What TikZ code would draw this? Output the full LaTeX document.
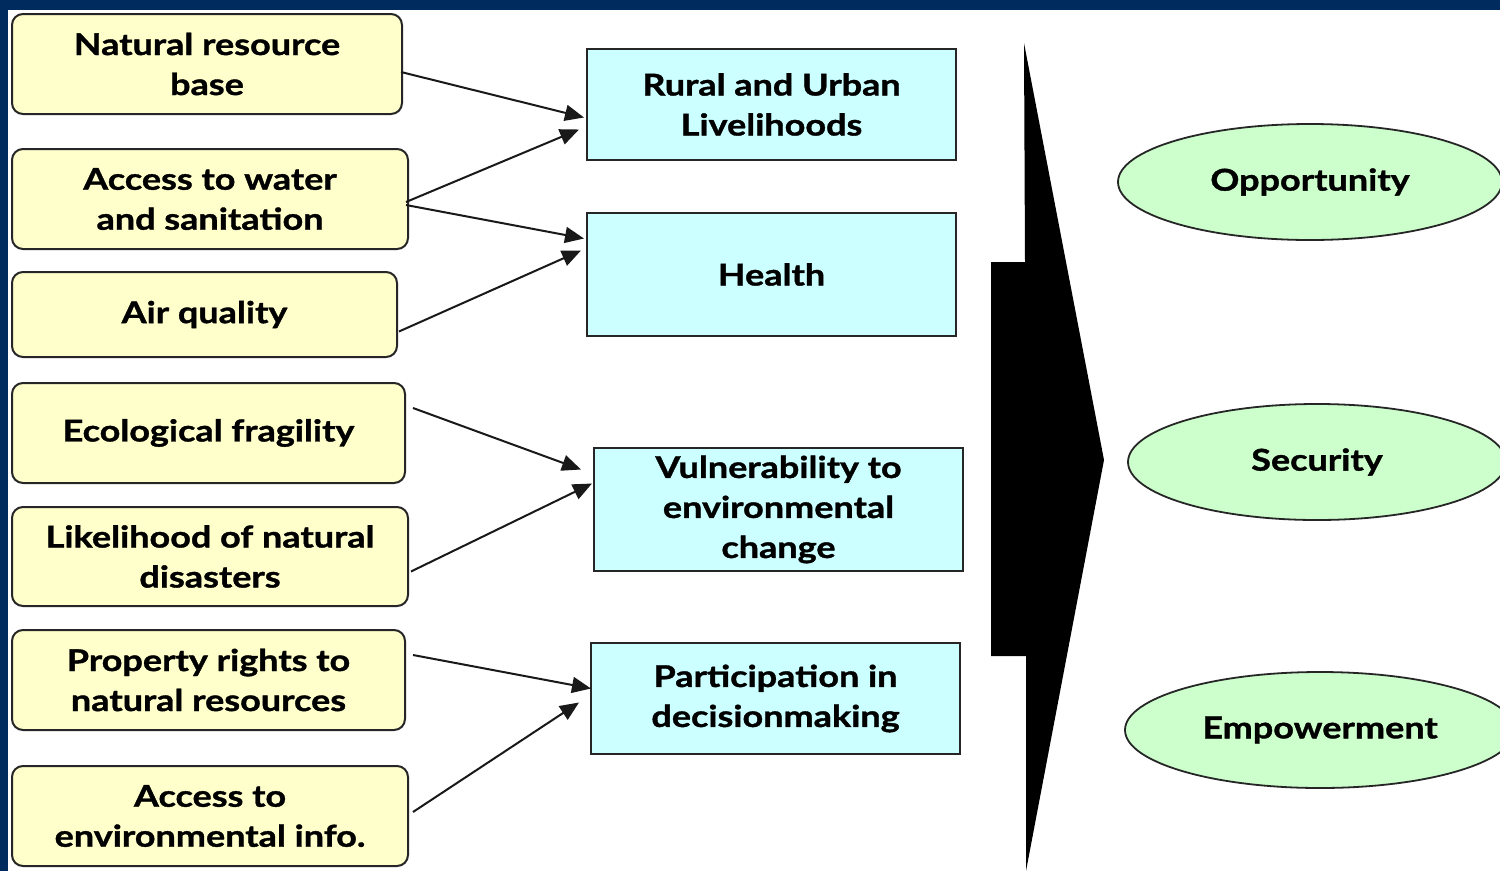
\documentclass[tikz,border=0pt]{standalone}
\usepackage{fontspec}
\setmainfont{Lato}[BoldFeatures={FakeStretch=1.2,FakeBold=1.2}]
\usetikzlibrary{arrows.meta,calc,shapes.geometric}
\definecolor{frameblue}{RGB}{0,43,94}
\definecolor{factorfill}{RGB}{255,255,204}
\definecolor{outcomefill}{RGB}{204,255,255}
\definecolor{goalfill}{RGB}{204,255,204}
\begin{document}
\begin{tikzpicture}[x=1pt,y=-1pt,
  every node/.style={font=\fontsize{30}{40}\selectfont\bfseries, align=center, inner sep=0pt},
  factor/.style={draw=black!85, line width=2pt, rounded corners=11pt, fill=factorfill},
  outcome/.style={draw=black!85, line width=2pt, fill=outcomefill},
  goal/.style={draw=black!85, line width=1.8pt, ellipse, fill=goalfill},
  conn/.style={draw=black!90, line width=2pt, -{Triangle[length=19pt,width=16pt]}}]
\useasboundingbox (0,0) rectangle (1500,871);
\fill[white] (0,0) rectangle (1500,871);
% slide frame
\fill[frameblue] (0,0) rectangle (1500,10);
\fill[frameblue] (0,0) rectangle (8,871);

% left column: environmental factors
\node[factor, minimum width=390pt, minimum height=100pt] (nat)    at (207,64)    {Natural resource\\base};
\node[factor, minimum width=396pt, minimum height=100pt] (water)  at (210,199)   {Access to water\\and sanitation};
\node[factor, minimum width=385pt, minimum height=85pt]  (air)    at (204.5,314.5) {Air quality};
\node[factor, minimum width=393pt, minimum height=100pt] (eco)    at (208.5,433) {Ecological fragility};
\node[factor, minimum width=396pt, minimum height=99pt]  (likely) at (210,556.5) {Likelihood of natural\\disasters};
\node[factor, minimum width=393pt, minimum height=100pt] (prop)   at (208.5,680) {Property rights to\\natural resources};
\node[factor, minimum width=396pt, minimum height=100pt] (info)   at (210,816)   {Access to\\environmental info.};

% middle column: outcomes
\node[outcome, minimum width=369pt, minimum height=111pt] (rural)  at (771.5,104.5) {Rural and Urban\\Livelihoods};
\node[outcome, minimum width=369pt, minimum height=123pt] (health) at (771.5,274.5) {Health};
\node[outcome, minimum width=369pt, minimum height=123pt] (vuln)   at (778.5,509.5) {Vulnerability to\\environmental\\change};
\node[outcome, minimum width=369pt, minimum height=111pt] (part)   at (775.5,698.5) {Participation in\\decisionmaking};

% big block arrow
\fill[black] (1024,43) -- (1104,460) -- (1026,871) -- (1026,656) -- (991,656)
  -- (991,262) -- (1025,262) -- cycle;

% right column: goals
\node[goal, minimum width=384pt, minimum height=116pt] (opp) at (1310,182) {Opportunity};
\node[goal, minimum width=378pt, minimum height=116pt] (sec) at (1317,462) {Security};
\node[goal, minimum width=390pt, minimum height=116pt] (emp) at (1320,730) {Empowerment};

% connectors
\draw[conn] ($(nat.east)+(-2,8)$)    -- ($(rural.west)+(-2,13)$);
\draw[conn] ($(water.east)+(-3,3)$)  -- ($(rural.west)+(-7,25)$);
\draw[conn] ($(water.east)+(-3,6)$)  -- ($(health.west)+(-2,-36)$);
\draw[conn] ($(air.east)+(1,17)$)    -- ($(health.west)+(-5,-24)$);
\draw[conn] ($(eco.east)+(7,-25)$)   -- ($(vuln.west)+(-12,-40)$);
\draw[conn] ($(likely.east)+(2,15)$) -- ($(vuln.west)+(-1,-26)$);
\draw[conn] ($(prop.east)+(7,-25)$)  -- ($(part.west)+(1,-10)$);
\draw[conn] ($(info.east)+(4,-4)$)   -- ($(part.west)+(-11,4)$);
\end{tikzpicture}
\end{document}
